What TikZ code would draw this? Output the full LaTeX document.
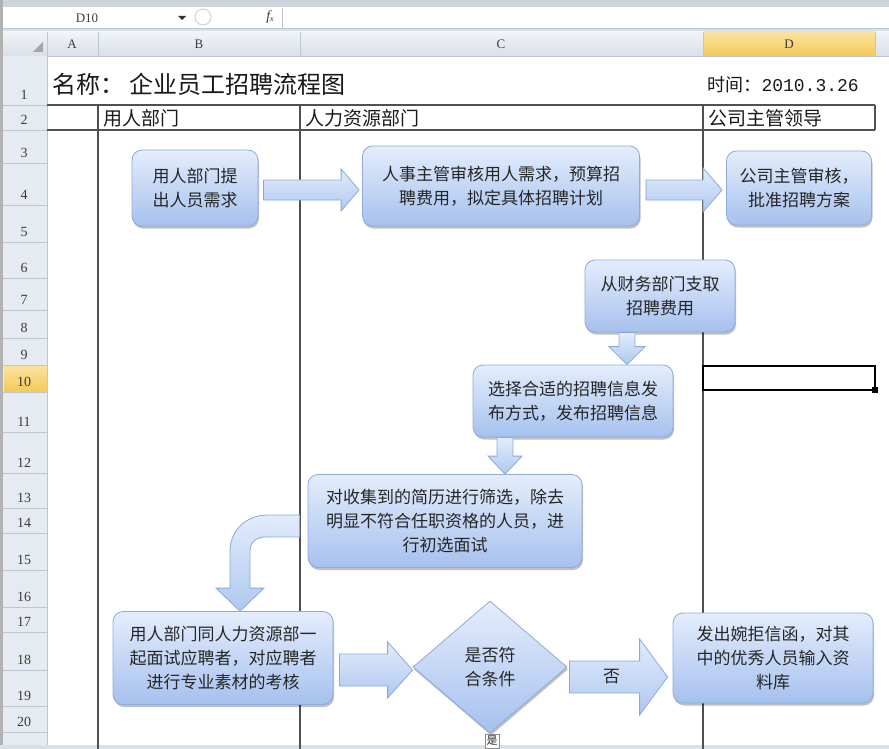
\documentclass[tikz,border=0pt]{standalone}
\usepackage{fontspec}
\setmainfont{Noto Sans CJK SC}
\newfontfamily\hdrfont{Liberation Serif}
\newfontfamily\datefont{Liberation Mono}
\usetikzlibrary{calc,shapes.geometric,shadows}

\definecolor{boxtop}{HTML}{E4EDFC}
\definecolor{boxbot}{HTML}{A6C1EE}
\definecolor{boxline}{HTML}{8DACDD}
\definecolor{arrtop}{HTML}{E2ECFB}
\definecolor{arrbot}{HTML}{AFC8F0}
\definecolor{arrline}{HTML}{8AA9DA}
\definecolor{txt}{HTML}{262626}
\definecolor{lanegrey}{HTML}{505050}
\definecolor{hdrtop}{HTML}{F1F4F8}
\definecolor{hdrbot}{HTML}{DAE0E8}
\definecolor{rowbg}{HTML}{E6EBF2}
\definecolor{hdrline}{HTML}{BCC6D2}
\definecolor{hdrtxt}{HTML}{3C3C3C}
\definecolor{seltop}{HTML}{FBE3A0}
\definecolor{selbot}{HTML}{F5C955}
\definecolor{chrome}{HTML}{CDD4DC}

% fat block arrows: #1 tail, #2 tip (same line), #3 half shaft, #4 half head, #5 head length
\newcommand\fatright[5]{%
  \draw[fatarr] ($(#1)+(0,-#3)$) -- ($(#2)+(-#5,-#3)$) -- ($(#2)+(-#5,-#4)$) -- (#2)
    -- ($(#2)+(-#5,#4)$) -- ($(#2)+(-#5,#3)$) -- ($(#1)+(0,#3)$) -- cycle;}
\newcommand\fatdown[5]{%
  \draw[fatarr] ($(#1)+(-#3,0)$) -- ($(#2)+(-#3,-#5)$) -- ($(#2)+(-#4,-#5)$) -- (#2)
    -- ($(#2)+(#4,-#5)$) -- ($(#2)+(#3,-#5)$) -- ($(#1)+(#3,0)$) -- cycle;}

\begin{document}
\begin{tikzpicture}[x=1pt, y=-1pt,
  box/.style={
    draw=boxline, line width=0.8pt, top color=boxtop, bottom color=boxbot,
    rounded corners=10pt, align=center, text=txt, inner sep=2pt,
    font=\fontsize{17}{24}\selectfont,
    drop shadow={shadow xshift=1pt, shadow yshift=-2.5pt, fill=black, opacity=0.25}},
  dbox/.style={box, diamond, sharp corners, inner sep=0pt},
  fatarr/.style={draw=arrline, line width=0.8pt, top color=arrtop, bottom color=arrbot},
  hdr/.style={font=\hdrfont\fontsize{14}{14}\selectfont, text=hdrtxt},
  lane/.style={draw=lanegrey, line width=1.5pt},
  cell/.style={font=\fontsize{19}{19}\selectfont, text=black!90, anchor=west},
]
  \useasboundingbox (0,0) rectangle (889,749);
  \clip (0,0) rectangle (889,749);
  \fill[white] (0,0) rectangle (889,749);

  % window chrome and formula bar
  \fill[chrome] (0,0) rectangle (889,7);
  \fill[hdrbot] (0,28) rectangle (889,32);
  \draw[hdrline] (0,28) -- (889,28);
  \draw[hdrline] (282,8) -- (282,28);
  \node[hdr, font=\hdrfont\fontsize{13}{13}\selectfont] (namebox) at (87,18) {D10};
  \fill[black!80] (178,16) -- (186,16) -- (182,20) -- cycle;
  \draw[gray!35, line width=1pt] (203,17) circle (8);
  \node[hdr] (fx) at (270,17) {\itshape f\raisebox{-1pt}{\footnotesize x}};

  % column header
  \shade[top color=hdrtop, bottom color=hdrbot] (0,32) rectangle (889,56);
  \shade[top color=seltop, bottom color=selbot] (703,32) rectangle (875,56);
  \foreach \x in {47,98,300,703,875}{
    \draw[hdrline] (\x,32) -- (\x,56);
  }
  \draw[hdrline] (0,56) -- (889,56);
  \fill[black!35] (33,52) -- (43,52) -- (43,42) -- cycle;
  \foreach \c/\x in {A/72,B/199,C/501,D/789}{
    \node[hdr, font=\hdrfont\fontsize{13}{13}\selectfont] (col-\c) at (\x,44) {\c};
  }

  % row header
  \fill[rowbg] (0,56) rectangle (47,749);
  \shade[top color=seltop, bottom color=selbot] (4,365) rectangle (47,392);
  \fill[black!30] (0,0) rectangle (3,749);
  \draw[hdrline] (47,56) -- (47,749);
  \foreach \r/\b in {1/105,2/130,3/163,4/205,5/242,6/278,7/310,8/338,9/365,10/392,
      11/432,12/473,13/508,14/533,15/570,16/607,17/632,18/670,19/706,20/732}{
    \draw[hdrline] (3,\b) -- (47,\b);
    \node[hdr] (row-\r) at (24,\b-10) {\r};
  }
  \fill[hdrbot] (0,745) rectangle (889,749);

  % title row and lane headings
  \node[cell, font=\fontsize{24}{24}\selectfont] (title) at (49,84) {名称：\hspace{5pt}企业员工招聘流程图};
  \node[cell, font=\fontsize{18}{18}\selectfont] (date) at (704,85) {时间：{\datefont 2010.3.26}};
  \draw[lane] (47,105) -- (875,105);
  \draw[lane] (47,130) -- (875,130);
  \draw[lane] (875,105) -- (875,130);
  \foreach \x in {98,300,703}{
    \draw[lane] (\x,105) -- (\x,749);
  }
  \node[cell] (laneB) at (100,118) {用人部门};
  \node[cell] (laneC) at (302,118) {人力资源部门};
  \node[cell] (laneD) at (705,118) {公司主管领导};

  % selected cell
  \draw[black, line width=2.5pt] (703,366) rectangle (875,390);
  \fill[black] (872,387) rectangle (878,393);

  % flow
  \node[box, minimum width=126pt, minimum height=76pt] (req)  at (195,188) {用人部门提\\出人员需求};
  \node[box, minimum width=277pt, minimum height=80pt] (plan) at (501,186) {人事主管审核用人需求，预算招\\聘费用，拟定具体招聘计划};
  \node[box, minimum width=145pt, minimum height=74pt] (appr) at (799,188) {公司主管审核，\\批准招聘方案};
  \node[box, minimum width=150pt, minimum height=72pt] (fin)  at (660,296) {从财务部门支取\\招聘费用};
  \node[box, minimum width=200pt, minimum height=72pt] (pub)  at (573,401) {选择合适的招聘信息发\\布方式，发布招聘信息};
  \node[box, minimum width=274pt, minimum height=93pt] (scr)  at (445,521) {对收集到的简历进行筛选，除去\\明显不符合任职资格的人员，进\\行初选面试};
  \node[box, minimum width=220pt, minimum height=93pt] (intv) at (223,658) {用人部门同人力资源部一\\起面试应聘者，对应聘者\\进行专业素材的考核};
  \node[dbox, minimum width=154pt, minimum height=132pt] (dec) at (490,667) {是否符\\合条件};
  \node[box, minimum width=200pt, minimum height=90pt] (rej)  at (773,658) {发出婉拒信函，对其\\中的优秀人员输入资\\料库};

  \coordinate (a1t) at ($(req.east)+(5,2)$);
  \coordinate (a1h) at ($(a1t -| plan.west)+(-3,0)$);
  \fatright{a1t}{a1h}{10}{21}{18}
  \coordinate (a2t) at ($(plan.east)+(6,4)$);
  \coordinate (a2h) at ($(a2t -| appr.west)+(-4,0)$);
  \fatright{a2t}{a2h}{10}{22}{19}
  \coordinate (d1t) at ($(fin.south)+(-33,0)$);
  \coordinate (d1h) at (d1t |- pub.north);
  \fatdown{d1t}{d1h}{8}{18}{18}
  \coordinate (d2t) at ($(pub.south)+(-68,0)$);
  \coordinate (d2h) at (d2t |- scr.north);
  \fatdown{d2t}{d2h}{8}{17}{18}

  % bent arrow from screening back to the interview
  \coordinate (bt) at ($(scr.west)+(-8,5)$);
  \coordinate (bh) at ($(intv.north)+(17,0)$);
  \draw[fatarr] ($(bt)+(0,-11)$) -- ($(bt)+(-32,-11)$)
    .. controls ($(bt)+(-53,-11)$) and ($(bh)+(-10,-81)$) .. ($(bh)+(-10,-60)$)
    -- ($(bh)+(-10,-23)$) -- ($(bh)+(-24,-23)$) -- (bh) -- ($(bh)+(24,-23)$)
    -- ($(bh)+(10,-23)$) -- ($(bh)+(10,-60)$)
    .. controls ($(bh)+(10,-69)$) and ($(bt)+(-43,11)$) .. ($(bt)+(-34,11)$)
    -- ($(bt)+(0,11)$) -- cycle;

  \coordinate (a3t) at ($(intv.east)+(6,12)$);
  \coordinate (a3h) at (a3t -| dec.west);
  \fatright{a3t}{a3h}{16}{28}{25}
  \coordinate (a4t) at ($(dec.east)+(2,10)$);
  \coordinate (a4h) at ($(a4t -| rej.west)+(-5,0)$);
  \fatright{a4t}{a4h}{16}{38}{28}
  \node[font=\fontsize{17}{17}\selectfont, text=txt] (no) at ($(a4t)!0.43!(a4h)$) {否};

  \node[draw=black!45, fill=white, inner sep=1pt, minimum size=14pt,
    font=\fontsize{11}{11}\selectfont, text=txt] (yes) at (492,741) {是};
\end{tikzpicture}
\end{document}
